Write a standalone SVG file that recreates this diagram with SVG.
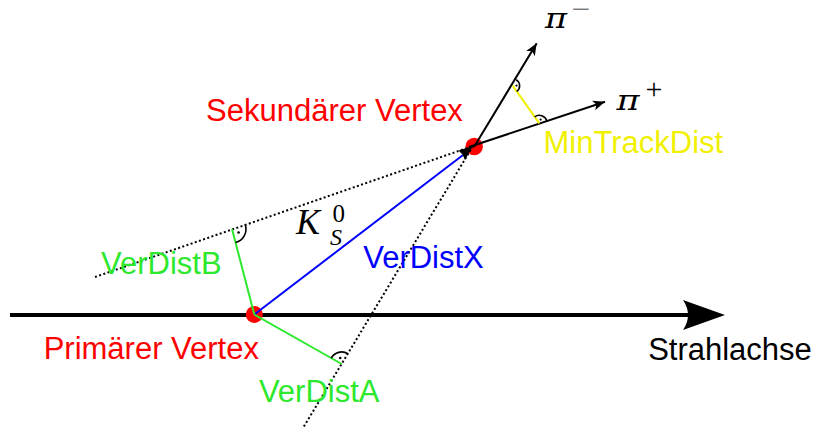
<svg xmlns="http://www.w3.org/2000/svg" width="814" height="430" viewBox="0 0 814 430">
<style>
.lbl{font-family:"Liberation Sans",Arial,sans-serif;font-size:31px;text-anchor:middle}
.math{font-family:"Liberation Serif","Times New Roman",serif;font-style:italic}
.pi{font-family:"DejaVu Serif","Liberation Serif",serif;font-style:italic}
.up{font-family:"Liberation Serif","Times New Roman",serif;font-style:normal}
.dot{stroke:#000;stroke-width:2;stroke-dasharray:2 2.4;fill:none}
.grn{stroke:#2de82d;stroke-width:2;fill:none}
.ra{stroke:#000;stroke-width:1.6;fill:none}
.trk{stroke:#000;stroke-width:2;fill:none}
.vtx{fill:#ff0000}
</style>
<defs>
<marker id="ah" viewBox="-13 -6 14 12" refX="0" refY="0" markerWidth="14" markerHeight="12" markerUnits="userSpaceOnUse" orient="auto">
<path d="M0,0 L-12,-5 L-9,0 L-12,5 Z" fill="#000"/>
</marker>
</defs>
<rect width="814" height="430" fill="#fff"/>

<g id="beam-axis">
<line x1="10" y1="315" x2="692" y2="315" stroke="#000" stroke-width="4"/>
<path d="M725,315 L683,300 Q693,315 683,330 Z" fill="#000"/>
</g>

<g id="primary-vertex">
<circle class="vtx" cx="254.3" cy="314.5" r="8.5"/>
</g>
<g id="secondary-vertex">
<circle class="vtx" cx="474.2" cy="146.5" r="8.7"/>
</g>

<g id="connectors">
<line class="dot" x1="95" y1="277" x2="473" y2="146"/>
<line class="dot" x1="473" y1="146" x2="303" y2="428"/>
<line x1="254.3" y1="314.5" x2="463" y2="155" stroke="#0000ff" stroke-width="2"/>
<path d="M473,146 L458.5,150.5 L462.5,154.5 L465,160 Z" fill="#000"/>
<line class="grn" x1="254.3" y1="314.5" x2="232" y2="229"/>
<line class="grn" x1="254.3" y1="314.5" x2="341.7" y2="364"/>
<line class="trk" x1="474" y1="147" x2="536.7" y2="43.3" marker-end="url(#ah)"/>
<line class="trk" x1="469" y1="147" x2="605" y2="101.7" marker-end="url(#ah)"/>
<line x1="512.7" y1="85.7" x2="539.3" y2="123.3" stroke="#f0f000" stroke-width="2"/>
</g>

<g id="right-angles">
<path class="ra" d="M245.2,224.4 A14,14 0 0 1 235.5,242.6"/>
<circle cx="238.6" cy="232.5" r="1.3" fill="#000"/>
<path class="ra" d="M331.2,358.1 A12,12 0 0 1 347.9,353.7"/>
<circle cx="340.2" cy="358" r="1.3" fill="#000"/>
<path class="ra" d="M516.2,79.7 A7,7 0 0 1 516.7,91.4"/>
<circle cx="516.5" cy="85.6" r="1.1" fill="#000"/>
<path class="ra" d="M534.7,116.8 A8,8 0 0 1 546.9,120.9"/>
<circle cx="540.6" cy="119.6" r="1.1" fill="#000"/>
</g>

<g id="label-secondary"><text class="lbl" x="334.5" y="121" fill="#ff0000">Sekundärer Vertex</text></g>
<g id="label-primary"><text class="lbl" x="151.3" y="358.5" fill="#ff0000">Primärer Vertex</text></g>
<g id="label-mintrackdist"><text class="lbl" x="633.3" y="153" fill="#f0f000">MinTrackDist</text></g>
<g id="label-strahlachse"><text class="lbl" x="730" y="360" fill="#000">Strahlachse</text></g>
<g id="label-verdistx"><text class="lbl" x="423.5" y="268" fill="#0000ff">VerDistX</text></g>
<g id="label-verdistb"><text class="lbl" x="161.3" y="273.5" fill="#2de82d">VerDistB</text></g>
<g id="label-verdista"><text class="lbl" x="319.2" y="401.5" fill="#2de82d">VerDistA</text></g>

<g id="label-k0s">
<text class="math" x="296" y="234" font-size="36">K</text>
<text class="up" x="332.5" y="222" font-size="25">0</text>
<text class="math" x="330" y="245" font-size="24">S</text>
</g>
<g id="label-piminus">
<text class="pi" x="545" y="28.3" font-size="27" textLength="22" lengthAdjust="spacingAndGlyphs">π</text>
<text class="up" x="571" y="13.8" font-size="15" textLength="19" lengthAdjust="spacingAndGlyphs">−</text>
</g>
<g id="label-piplus">
<text class="pi" x="616.5" y="110" font-size="27" textLength="23" lengthAdjust="spacingAndGlyphs">π</text>
<text class="up" x="645.5" y="98.5" font-size="30">+</text>
</g>
</svg>
